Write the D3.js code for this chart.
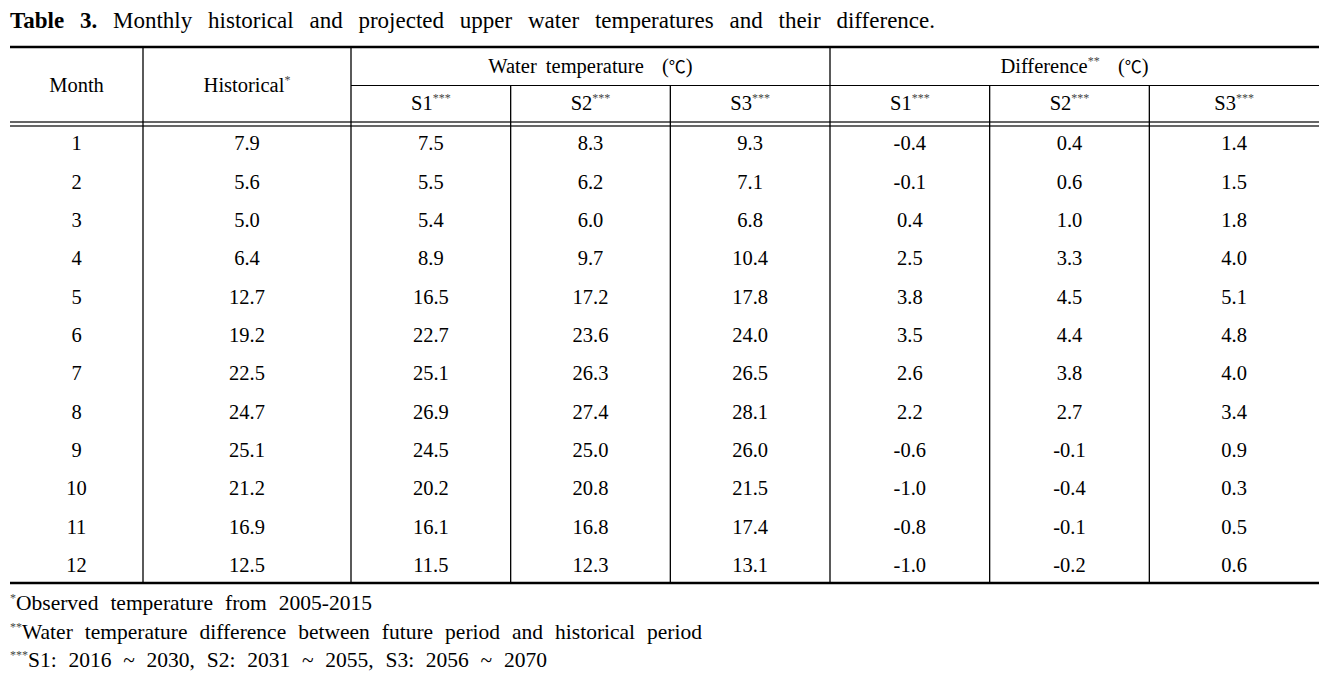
<!DOCTYPE html>
<html><head><meta charset="utf-8">
<script src="https://cdn.jsdelivr.net/npm/d3@7"></script>
<style>body{margin:0;background:#fff}svg{display:block}</style>
</head><body>
<svg id="c" width="1339" height="684"></svg>
<script>
const months=[1,2,3,4,5,6,7,8,9,10,11,12];
const historical=[7.9,5.6,5.0,6.4,12.7,19.2,22.5,24.7,25.1,21.2,16.9,12.5];
const wtS1=[7.5,5.5,5.4,8.9,16.5,22.7,25.1,26.9,24.5,20.2,16.1,11.5];
const wtS2=[8.3,6.2,6.0,9.7,17.2,23.6,26.3,27.4,25.0,20.8,16.8,12.3];
const wtS3=[9.3,7.1,6.8,10.4,17.8,24.0,26.5,28.1,26.0,21.5,17.4,13.1];
const dfS1=[-0.4,-0.1,0.4,2.5,3.8,3.5,2.6,2.2,-0.6,-1.0,-0.8,-1.0];
const dfS2=[0.4,0.6,1.0,3.3,4.5,4.4,3.8,2.7,-0.1,-0.4,-0.1,-0.2];
const dfS3=[1.4,1.5,1.8,4.0,5.1,4.8,4.0,3.4,0.9,0.3,0.5,0.6];
const scenarios=["S1","S2","S3"];
const groupLabels=[{t:"Water temperature",sup:""},{t:"Difference",sup:"**"}];
const titleBold="Table 3.";
const titleText="Monthly historical and projected upper water temperatures and their difference.";
const footnotes=[{sup:"*",t:"Observed temperature from 2005-2015"},
 {sup:"**",t:"Water temperature difference between future period and historical period"},
 {sup:"***",t:"S1: 2016 ~ 2030, S2: 2031 ~ 2055, S3: 2056 ~ 2070"}];

const svg=d3.select("#c");
const FONT="'Liberation Serif','Times New Roman',serif";
const L=10,R=1319,yTop=47,yMid=85.5,yD1=122,yD2=126,yBot=583;
const xMonth=143,xHist=351;
const series=[wtS1,wtS2,wtS3,dfS1,dfS2,dfS3];
const colX=d3.scaleBand().domain(d3.range(6)).range([xHist,1309]);
const rowY=d3.scaleBand().domain(months).range([124.5,584.5]);
const cellCenter=i=> i===5 ? (colX(5)+R)/2 : colX(i)+colX.bandwidth()/2;
const fmt=v=>v.toFixed(1);

// title
const title=svg.append("text").attr("x",L).attr("y",28).attr("font-family",FONT).attr("font-size",23).attr("fill","#000");
title.append("tspan").attr("font-weight","bold").text(titleBold+" ");
title.append("tspan").text(titleText);
function fitWords(sel,target){
  const w=sel.node().getComputedTextLength();
  const txt=sel.text();const n=(txt.match(/ /g)||[]).length;
  if(n>0)sel.attr("word-spacing",Math.max(0,(target-L-w)/n));
}
fitWords(title,935);

// lines
const g=svg.append("g");
g.append("line").attr("x1",L).attr("x2",R).attr("y1",yTop).attr("y2",yTop).attr("stroke","#000").attr("stroke-width",2.6);
g.append("line").attr("x1",xHist).attr("x2",R).attr("y1",yMid).attr("y2",yMid).attr("stroke","#000").attr("stroke-width",1.1);
[yD1,yD2].forEach(y=>g.append("line").attr("x1",L).attr("x2",R).attr("y1",y).attr("y2",y).attr("stroke","#333").attr("stroke-width",1.7));
g.append("line").attr("x1",L).attr("x2",R).attr("y1",yBot).attr("y2",yBot).attr("stroke","#000").attr("stroke-width",2.6);
const fullV=[xMonth,xHist,colX(3)];
const partV=[colX(1),colX(2),colX(4),colX(5)];
fullV.forEach(x=>g.append("line").attr("x1",x).attr("x2",x).attr("y1",yTop).attr("y2",yBot).attr("stroke","#000").attr("stroke-width",1.3));
partV.forEach(x=>g.append("line").attr("x1",x).attr("x2",x).attr("y1",yMid).attr("y2",yBot).attr("stroke","#000").attr("stroke-width",1.3));

function label(x,y,t,sup,anchor){
  const el=svg.append("text").attr("x",x).attr("y",y).attr("font-family",FONT).attr("font-size",20.5).attr("fill","#000").attr("text-anchor",anchor||"middle");
  el.append("tspan").text(t);
  if(sup){el.append("tspan").attr("dy",-8).attr("font-size",12).attr("fill","#444").text(sup);}
  return el;
}
// header
label((L+xMonth)/2,92,"Month");
label((xMonth+xHist)/2,92,"Historical","*");
groupLabels.forEach((gl,k)=>{
  const x0=colX(k*3), x1=k===1?R:colX(3);
  const el=label((x0+x1)/2,73,gl.t,gl.sup).attr("word-spacing",4);
  el.append("tspan").attr("dy",gl.sup?8:0).text("  (").attr("xml:space","preserve");
  el.append("tspan").attr("font-family","'Noto Sans CJK KR','DejaVu Sans',sans-serif").attr("font-size",17).text("℃");
  el.append("tspan").text(")");
});
d3.range(6).forEach(i=>label(cellCenter(i),110,scenarios[i%3],"***"));

// body
const rows=svg.append("g").attr("font-family",FONT).attr("font-size",20.5).attr("text-anchor","middle");
months.forEach((m,r)=>{
  const yb=rowY(m)+rowY.bandwidth()/2+6.5;
  rows.append("text").attr("x",(L+xMonth)/2).attr("y",yb).text(m);
  rows.append("text").attr("x",(xMonth+xHist)/2).attr("y",yb).text(fmt(historical[r]));
  series.forEach((s,i)=>rows.append("text").attr("x",cellCenter(i)).attr("y",yb).text(fmt(s[r])));
});

// footnotes
const fy=[610,639,667], fEnd=[372,702,547];
footnotes.forEach((f,i)=>{
  const el=svg.append("text").attr("x",L).attr("y",fy[i]).attr("font-family",FONT).attr("font-size",21.5).attr("fill","#000");
  el.append("tspan").attr("dy",-8).attr("font-size",12).attr("fill","#444").text(f.sup);
  el.append("tspan").attr("dy",8).text(f.t);
  fitWords(el,fEnd[i]);
});
</script>
</body></html>
